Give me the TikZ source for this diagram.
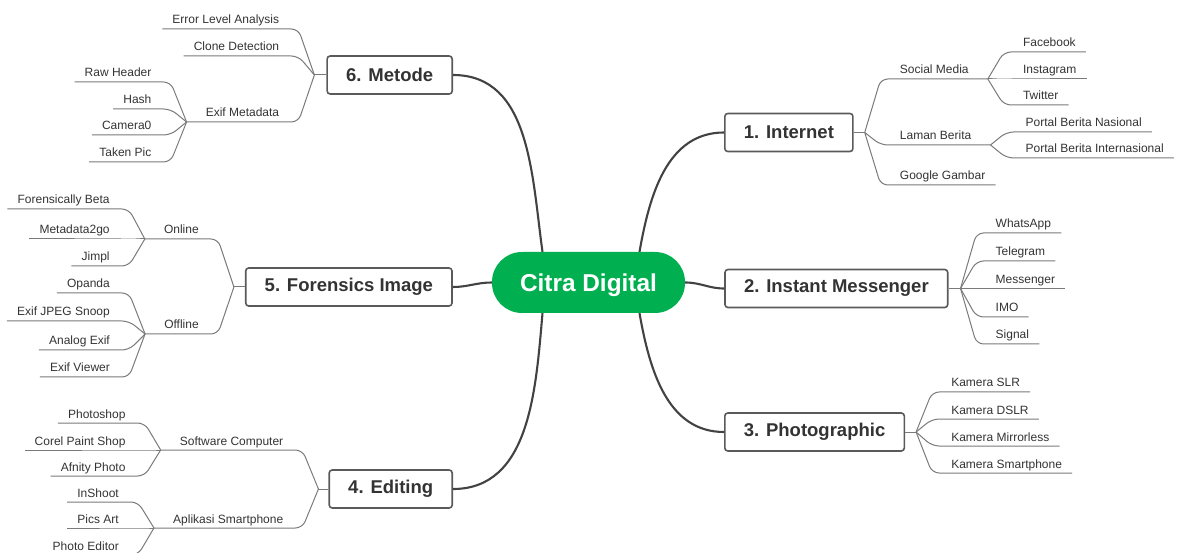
\documentclass[tikz,border=0pt]{standalone}
\usepackage{fontspec}
\setmainfont{Liberation Sans}
\usetikzlibrary{calc}
\usetikzlibrary{positioning}

\definecolor{citragreen}{HTML}{00B050}
\definecolor{ink}{HTML}{333333}
\definecolor{twiggray}{HTML}{7A7A7A}
\definecolor{trunkgray}{HTML}{424242}
\definecolor{boxgray}{HTML}{5A5A5A}

\tikzset{
	hub/.style={rounded corners=30pt,fill=citragreen,text=white,minimum width=193pt,minimum height=61pt,text depth=0pt,font=\fontsize{24.4}{28}\selectfont\bfseries},
	topic/.style={draw=boxgray,line width=1.6pt,rounded corners=3pt,fill=white,text=ink,inner xsep=19pt,minimum height=38pt,font=\fontsize{18.5}{22}\selectfont\bfseries},
	leaf/.style={inner sep=0pt,text=ink,font=\fontsize{12}{14}\selectfont},
	twig/.style={draw=twiggray,line width=1pt,rounded corners=7pt},
	trunk/.style={draw=trunkgray,line width=2.1pt}
}

% leaf to the left / right of a hub: hub, name, y of the underline, padding, text
\newcommand{\leafL}[5]{%
	\coordinate (#2-y) at (0,#3);
	\node [leaf,anchor=base east] (#2) at ($(#1 |- #2-y)+(-35,-5)$) {#5};
	\coordinate (#2-end) at ($(#2.base west)+(-#4,5)$);
	\draw [twig] (#1) -- ($(#1 |- #2-y)+(-16,0)$) -- (#2-end);
}
\newcommand{\leafR}[5]{%
	\coordinate (#2-y) at (0,#3);
	\node [leaf,anchor=base west] (#2) at ($(#1 |- #2-y)+(35,-5)$) {#5};
	\coordinate (#2-end) at ($(#2.base east)+(#4,5)$);
	\draw [twig] (#1) -- ($(#1 |- #2-y)+(16,0)$) -- (#2-end);
}

\begin{document}
\begin{tikzpicture}[x=1pt,y=-1pt]
	\useasboundingbox (0,0) rectangle (1184,553);

	\node [hub] (citra) at (588.5,282.5) {Citra Digital};

	\node [topic,anchor=east] (metode) at (453,75) {6. Metode};
	\node [topic,left=39pt of citra,yshift=-4.5pt] (forensik) {5. Forensics Image};
	\node [topic,anchor=east] (editing) at (453,489) {4. Editing};
	\node [topic,anchor=west] (internet) at (724,132.5) {1. Internet};
	\node [topic,right=39pt of citra,yshift=-6pt] (messenger) {2. Instant Messenger};
	\node [topic,anchor=west] (photo) at (724,432) {3. Photographic};

	\draw [trunk] ([xshift=-46pt]citra.north) to [out=98,in=0] (metode.east);
	\draw [trunk] (citra.west) to [out=180,in=0] (forensik.east);
	\draw [trunk] ([xshift=-46pt]citra.south) to [out=-95,in=0] (editing.east);
	\draw [trunk] ([xshift=51pt]citra.north) to [out=80,in=180] (internet.west);
	\draw [trunk] (citra.east) to [out=0,in=180] (messenger.west);
	\draw [trunk] ([xshift=51pt]citra.south) to [out=-80,in=180] (photo.west);

	% 6. Metode
	\coordinate (metode-hub) at ([xshift=-12pt]metode.west);
	\draw [twig] (metode.west) -- (metode-hub);
	\leafL{metode-hub}{ela}{29}{10}{Error Level Analysis}
	\leafL{metode-hub}{clone}{56}{10}{Clone Detection}
	\leafL{metode-hub}{exif}{122}{19}{Exif Metadata}
	\leafL{exif-end}{raw}{82}{10}{Raw Header}
	\leafL{exif-end}{hash}{109}{10}{Hash}
	\leafL{exif-end}{camera}{135}{10}{Camera0}
	\leafL{exif-end}{taken}{162}{10}{Taken Pic}

	% 5. Forensics Image
	\coordinate (forensik-hub) at ([xshift=-11pt]forensik.west);
	\draw [twig] (forensik.west) -- (forensik-hub);
	\leafL{forensik-hub}{online}{239}{19}{Online}
	\leafL{online-end}{beta}{209}{10}{Forensically Beta}
	\leafL{online-end}{m2go}{239}{10}{Metadata2go}
	\leafL{online-end}{jimpl}{266}{10}{Jimpl}
	\leafL{forensik-hub}{offline}{334}{19}{Offline}
	\leafL{offline-end}{opanda}{293}{10}{Opanda}
	\leafL{offline-end}{snoop}{321}{10}{Exif JPEG Snoop}
	\leafL{offline-end}{analog}{350}{10}{Analog Exif}
	\leafL{offline-end}{viewer}{377}{10}{Exif Viewer}

	% 4. Editing
	\coordinate (editing-hub) at ([xshift=-10pt]editing.west);
	\draw [twig] (editing.west) -- (editing-hub);
	\leafL{editing-hub}{software}{450}{19}{Software Computer}
	\leafL{software-end}{photoshop}{423}{10}{Photoshop}
	\leafL{software-end}{corel}{450}{10}{Corel Paint Shop}
	\leafL{software-end}{afnity}{476}{10}{Afnity Photo}
	\leafL{editing-hub}{apps}{528}{19}{Aplikasi Smartphone}
	\leafL{apps-end}{inshoot}{502}{10}{InShoot}
	\leafL{apps-end}{picsart}{528}{10}{Pics Art}
	\leafL{apps-end}{editor}{555}{10}{Photo Editor}

	% 1. Internet
	\coordinate (internet-hub) at ([xshift=11pt]internet.east);
	\draw [twig] (internet.east) -- (internet-hub);
	\leafR{internet-hub}{social}{79}{19}{Social Media}
	\leafR{social-end}{facebook}{52}{10}{Facebook}
	\leafR{social-end}{instagram}{79}{10}{Instagram}
	\leafR{social-end}{twitter}{105}{10}{Twitter}
	\leafR{internet-hub}{laman}{145}{19}{Laman Berita}
	\leafR{laman-end}{nasional}{132}{10}{Portal Berita Nasional}
	\leafR{laman-end}{internasional}{158}{10}{Portal Berita Internasional}
	\leafR{internet-hub}{google}{185}{10}{Google Gambar}

	% 2. Instant Messenger
	\coordinate (messenger-hub) at ([xshift=12pt]messenger.east);
	\draw [twig] (messenger.east) -- (messenger-hub);
	\leafR{messenger-hub}{whatsapp}{233}{10}{WhatsApp}
	\leafR{messenger-hub}{telegram}{261}{10}{Telegram}
	\leafR{messenger-hub}{fbmessenger}{288.5}{10}{Messenger}
	\leafR{messenger-hub}{imo}{317}{10}{IMO}
	\leafR{messenger-hub}{signal}{344}{10}{Signal}

	% 3. Photographic
	\coordinate (photo-hub) at ([xshift=11pt]photo.east);
	\draw [twig] (photo.east) -- (photo-hub);
	\leafR{photo-hub}{slr}{392}{10}{Kamera SLR}
	\leafR{photo-hub}{dslr}{419}{10}{Kamera DSLR}
	\leafR{photo-hub}{mirrorless}{446}{10}{Kamera Mirrorless}
	\leafR{photo-hub}{smartphone}{473}{10}{Kamera Smartphone}
\end{tikzpicture}
\end{document}
